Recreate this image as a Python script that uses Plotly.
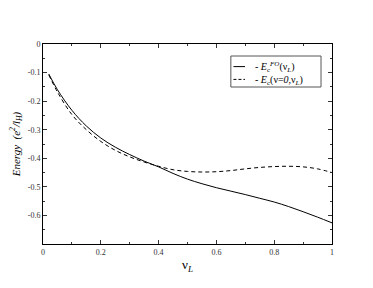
import plotly.graph_objects as go

nu_L = [0.02, 0.05, 0.1, 0.15, 0.2, 0.25, 0.3, 0.35, 0.4, 0.45, 0.5, 0.55, 0.6,
        0.65, 0.7, 0.75, 0.8, 0.85, 0.9, 0.95, 1.0]
E_FO = [-0.105, -0.160, -0.232, -0.287, -0.329, -0.361, -0.387, -0.41, -0.43,
        -0.453, -0.473, -0.489, -0.503, -0.515, -0.527, -0.54, -0.553, -0.569,
        -0.587, -0.606, -0.626]
E_nu0 = [-0.108, -0.168, -0.247, -0.300, -0.341, -0.372, -0.395, -0.413, -0.428,
         -0.440, -0.446, -0.448, -0.447, -0.443, -0.437, -0.432, -0.429, -0.428,
         -0.430, -0.437, -0.450]

name_FO = "- <i>E</i><sub>c</sub><sup><i>FO</i></sup>(ν<sub><i>L</i></sub>)"
name_nu0 = "- <i>E</i><sub>c</sub>(ν=<i>0</i>,ν<sub><i>L</i></sub>)"

font_fam = "Liberation Serif, Times New Roman, serif"

fig = go.Figure()
fig.add_trace(go.Scatter(x=nu_L, y=E_FO, mode="lines", name=name_FO,
                         line=dict(color="black", width=1, shape="spline")))
fig.add_trace(go.Scatter(x=nu_L, y=E_nu0, mode="lines", name=name_nu0,
                         line=dict(color="black", width=1, dash="4px,3px", shape="spline")))

axis_common = dict(
    showline=True, linecolor="black", linewidth=1, mirror="ticks",
    ticks="inside", ticklen=4, tickcolor="#333", showgrid=False, zeroline=False,
    automargin=False,
    tickfont=dict(family=font_fam, size=8, color="#333"),
)

fig.update_layout(
    width=365, height=280,
    margin=dict(l=35, r=41, t=36, b=44),
    paper_bgcolor="white", plot_bgcolor="white",
    font=dict(family=font_fam, color="black"),
    xaxis=dict(range=[0, 1], tickvals=[0, 0.2, 0.4, 0.6, 0.8, 1],
               ticktext=["0", "0.2", "0.4", "0.6", "0.8", "1"],
               minor=dict(ticks="inside", ticklen=2, dtick=0.1, tickcolor="#333"),
               title=dict(text="ν<sub><i>L</i></sub>", font=dict(size=13), standoff=4),
               **axis_common),
    yaxis=dict(range=[-0.7, 0], tickvals=[0, -0.1, -0.2, -0.3, -0.4, -0.5, -0.6],
               ticktext=["0", "-0.1", "-0.2", "-0.3", "-0.4", "-0.5", "-0.6"],
               minor=dict(ticks="inside", ticklen=2, dtick=0.05, tickcolor="#333"),
               title=dict(text="<i>Energy</i>  <i>(e<sup>2</sup>/l<sub>H</sub>)</i>",
                          font=dict(size=11), standoff=8),
               **axis_common),
    showlegend=False,
)

# manual legend (paper coordinates of the plotting area)
fig.add_shape(type="rect", xref="paper", yref="paper", x0=0.65, x1=0.962,
              y0=0.785, y1=0.94, line=dict(color="#555", width=1), fillcolor="white")
for yy, dash in [(0.887, "solid"), (0.823, "3px,2px")]:
    fig.add_shape(type="line", xref="paper", yref="paper", x0=0.659, x1=0.699,
                  y0=yy, y1=yy, line=dict(color="black", width=1, dash=dash))
fig.add_annotation(x=0.725, y=0.855, xref="paper", yref="paper",
                   text=name_FO + "<br>" + name_nu0,
                   showarrow=False, xanchor="left", yanchor="middle", align="left",
                   font=dict(size=10, family=font_fam, color="black"))

fig.write_html("out.html")
